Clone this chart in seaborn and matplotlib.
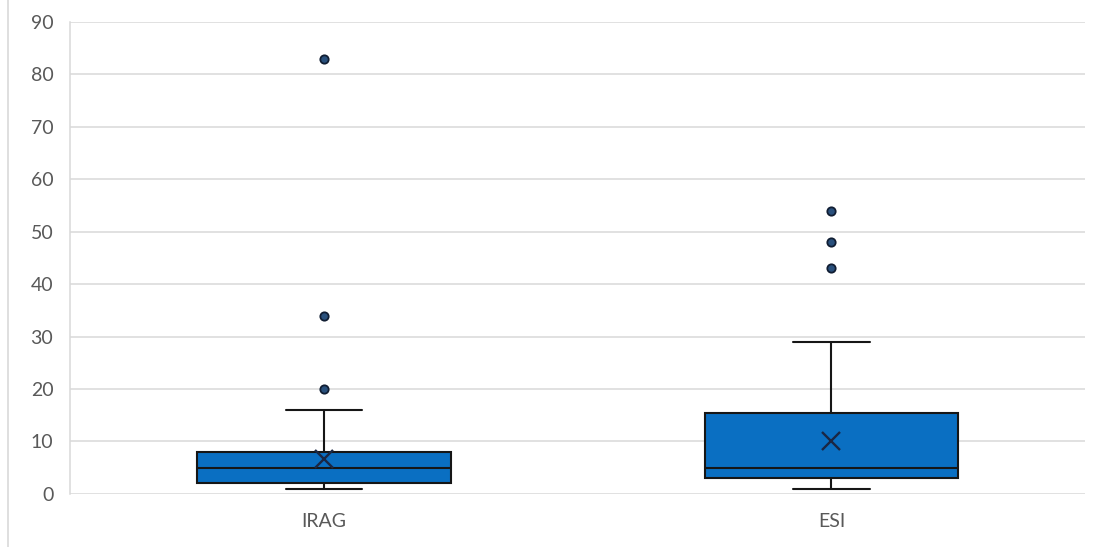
import matplotlib.pyplot as plt
import pandas as pd
import seaborn as sns
from matplotlib.lines import Line2D

# Categories and the raw values
grupos = ['IRAG', 'ESI']

irag = ([1] * 14 + [2] * 12 + [3, 4] + [5] * 9 + [6, 6, 7, 7] + [8] * 9
        + [10, 12, 14, 16] + [20, 34, 83])
esi = ([1] * 5 + [2] * 5 + [3] * 6 + [4] * 3 + [5] * 8
       + [6, 6, 7, 7, 8, 10, 13] + [15, 16]
       + [16, 16, 17, 17, 18, 20, 24, 29] + [43, 48, 54])

y_ticks = list(range(0, 91, 10))

df = pd.DataFrame({
    'grupo': ['IRAG'] * len(irag) + ['ESI'] * len(esi),
    'valor': irag + esi,
})

sns.set_theme(style="white")
plt.rcParams['font.family'] = ['Lato', 'DejaVu Sans']

fig, ax = plt.subplots(figsize=(10.94, 5.47), dpi=100)
fig.subplots_adjust(left=0.064, right=0.992, bottom=0.097, top=0.96)

sns.boxplot(
    data=df, x='grupo', y='valor', order=grupos, ax=ax,
    width=0.5, color='#0A6FC2', saturation=1,
    linecolor='#161616', linewidth=1.5, whis=1.5, fliersize=6,
    showmeans=True,
    meanprops=dict(marker='x', markeredgecolor='#1A2744',
                   markersize=13, markeredgewidth=1.7),
    flierprops=dict(marker='o', markerfacecolor='#29507C',
                    markeredgecolor='#111E33', markersize=6,
                    markeredgewidth=1.3),
    capwidths=0.15,
)

ax.set_ylim(0, 90)
ax.set_yticks(y_ticks)
ax.set_xlabel('')
ax.set_ylabel('')

ax.yaxis.grid(True, color='#D9D9D9', linewidth=1.1)
ax.xaxis.grid(False)
ax.set_axisbelow(True)

for s in ['top', 'right', 'bottom']:
    ax.spines[s].set_visible(False)
ax.spines['left'].set_color('#D9D9D9')
ax.spines['left'].set_linewidth(1.1)

ax.tick_params(axis='y', length=0, labelsize=14, labelcolor='#595959', pad=12)
ax.tick_params(axis='x', length=0, labelsize=14, labelcolor='#595959', pad=14)

# chart frame edge on the left
fig.add_artist(Line2D([0.0075, 0.0075], [0, 1], color='#D9D9D9', lw=1.2))

plt.savefig('out.png', dpi=100)
